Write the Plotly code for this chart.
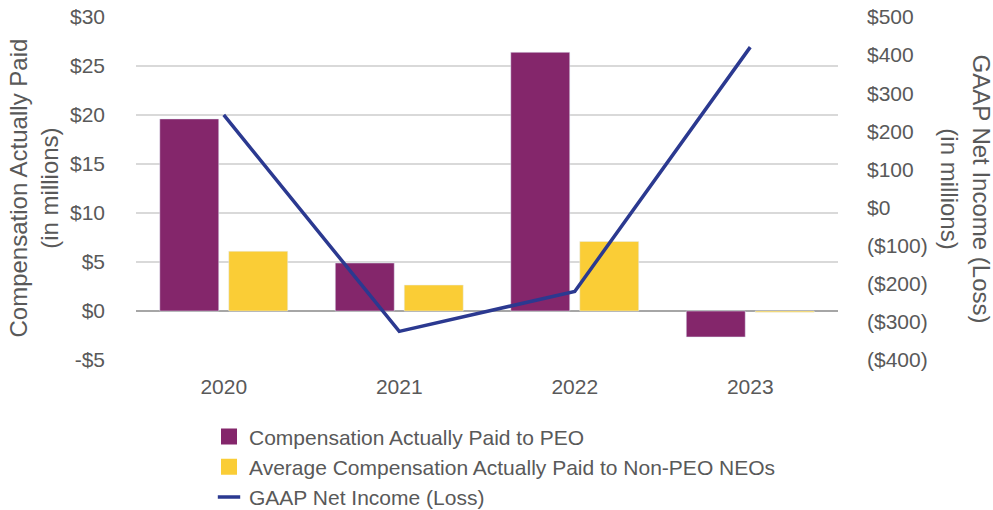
import plotly.graph_objects as go

years = ["2020", "2021", "2022", "2023"]
cap_peo = [19.6, 4.9, 26.4, -2.65]
cap_neo = [6.1, 2.65, 7.1, -0.12]
net_income = [243, -325, -220, 421]

left_ticks = [-5, 0, 5, 10, 15, 20, 25, 30]
left_ticktext = ["-$5", "$0", "$5", "$10", "$15", "$20", "$25", "$30"]
right_ticks = [-400, -300, -200, -100, 0, 100, 200, 300, 400, 500]
right_ticktext = ["($400)", "($300)", "($200)", "($100)", "$0", "$100", "$200", "$300", "$400", "$500"]

PURPLE = "#84266B"
YELLOW = "#FACD36"
NAVY = "#2B3990"
GRAY = "#595959"
FONT = "Liberation Sans, Arial, sans-serif"

fig = go.Figure()
fig.add_trace(go.Bar(x=years, y=cap_peo, marker_color=PURPLE, showlegend=False,
                     name="Compensation Actually Paid to PEO"))
fig.add_trace(go.Bar(x=years, y=cap_neo, marker_color=YELLOW, showlegend=False,
                     name="Average Compensation Actually Paid to Non-PEO NEOs"))
fig.add_trace(go.Scatter(x=years, y=net_income, yaxis="y2", mode="lines",
                         line=dict(color=NAVY, width=3.5), showlegend=False,
                         name="GAAP Net Income (Loss)"))

# legend entries
fig.add_trace(go.Scatter(x=[None], y=[None], mode="markers", name="Compensation Actually Paid to PEO",
                         marker=dict(symbol="square", size=22, color=PURPLE), legendgroup="a"))
fig.add_trace(go.Scatter(x=[None], y=[None], mode="markers",
                         name="Average Compensation Actually Paid to Non-PEO NEOs",
                         marker=dict(symbol="square", size=22, color=YELLOW), legendgroup="b"))
fig.add_trace(go.Scatter(x=[None], y=[None], mode="markers", name="GAAP Net Income (Loss)",
                         marker=dict(symbol="line-ew", size=22, line=dict(color=NAVY, width=3.5)),
                         legendgroup="c"))

fig.update_layout(
    width=993, height=510,
    margin=dict(l=136, r=155, t=17, b=150, autoexpand=False),
    plot_bgcolor="white", paper_bgcolor="white",
    font=dict(family=FONT, size=21, color=GRAY),
    barmode="group", bargap=0.214, bargroupgap=0.145,
    xaxis=dict(type="category", showgrid=False, showline=False, ticks="",
               tickfont=dict(size=21, color=GRAY), ticklabelstandoff=12),
    yaxis=dict(range=[-5, 30], tickvals=left_ticks, ticktext=left_ticktext,
               showgrid=True, gridcolor="#D9D9D9", gridwidth=1.5,
               zeroline=True, zerolinecolor="#A6A6A6", zerolinewidth=2,
               showline=False, ticks="", ticklabelstandoff=30,
               tickfont=dict(size=21, color=GRAY)),
    yaxis2=dict(range=[-400, 500], tickvals=right_ticks, ticktext=right_ticktext,
                overlaying="y", side="right", showgrid=False, zeroline=False,
                showline=False, ticks="", ticklabelstandoff=28,
                tickfont=dict(size=21, color=GRAY)),
    legend=dict(orientation="v", x=0.104, xanchor="left", y=-0.164, yanchor="top",
                font=dict(size=21, color=GRAY), tracegroupgap=0,
                bgcolor="rgba(0,0,0,0)"),
    annotations=[
        dict(text="Compensation Actually Paid<br>(in millions)", xref="paper", yref="paper",
             x=(33 - 136) / 702, y=0.5, xanchor="center", yanchor="middle", textangle=-90,
             showarrow=False, font=dict(size=24, color=GRAY)),
        dict(text="GAAP Net Income (Loss)<br>(in millions)", xref="paper", yref="paper",
             x=(966 - 136) / 702, y=0.5, xanchor="center", yanchor="middle", textangle=90,
             showarrow=False, font=dict(size=24, color=GRAY)),
    ],
)

fig.write_html("out.html", config={"displayModeBar": False},
               post_script="document.body.style.margin='0';")
